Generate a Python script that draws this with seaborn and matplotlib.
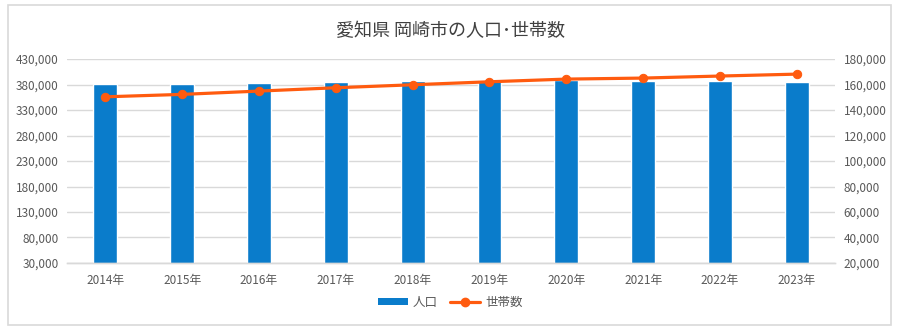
import numpy as np
import pandas as pd
import matplotlib
matplotlib.use("Agg")
import matplotlib.pyplot as plt
from matplotlib.patches import Rectangle
from matplotlib.lines import Line2D
from matplotlib.ticker import FuncFormatter
import seaborn as sns

# 岡崎市の人口・世帯数（各年）
years = ["2014年", "2015年", "2016年", "2017年", "2018年",
         "2019年", "2020年", "2021年", "2022年", "2023年"]
population = [380400, 381600, 383500, 384300, 386900,
              388800, 388900, 386300, 386300, 384300]
households = [150400, 152300, 154900, 157500, 159850,
              162200, 164300, 165100, 166700, 168200]
left_ticks = [30000, 80000, 130000, 180000, 230000,
              280000, 330000, 380000, 430000]
right_ticks = [20000, 40000, 60000, 80000, 100000,
               120000, 140000, 160000, 180000]

title = "愛知県 岡崎市の人口･世帯数"
bar_label = "人口"
line_label = "世帯数"

sns.set_theme(style="white")
plt.rcParams["font.family"] = ["Noto Sans CJK JP", "DejaVu Sans"]

BLUE = "#0A7CCB"
ORANGE = "#FF5B0F"
GRID = "#D9D9D9"
TEXT = "#595959"

fig = plt.figure(figsize=(9.0, 3.32), dpi=100)
ax = fig.add_axes([0.0744, 0.208, 0.8536, 0.614])

df = pd.DataFrame({"year": years, "population": population,
                   "households": households})

sns.barplot(data=df, x="year", y="population", color=BLUE, width=0.31,
            saturation=1, ax=ax, zorder=2)
ax.set_ylim(left_ticks[0], left_ticks[-1])
ax.set_yticks(left_ticks)
ax.set_xlim(-0.5, len(years) - 0.5)

ax2 = ax.twinx()
sns.lineplot(x=np.arange(len(years)), y=df["households"], ax=ax2,
             color=ORANGE, linewidth=2.3, marker="o", markersize=6,
             markeredgecolor=ORANGE, zorder=3)
ax2.set_ylim(right_ticks[0], right_ticks[-1])
ax2.set_yticks(right_ticks)

fmt = FuncFormatter(lambda v, p: f"{int(round(v)):,}")
ax.yaxis.set_major_formatter(fmt)
ax2.yaxis.set_major_formatter(fmt)

ax.grid(axis="y", color=GRID, linewidth=1.0, zorder=0)
ax.set_axisbelow(True)
for a in (ax, ax2):
    for s in ("left", "right", "top"):
        a.spines[s].set_visible(False)
    a.spines["bottom"].set_color(GRID)
    a.spines["bottom"].set_linewidth(1.0)
    a.set_xlabel("")
    a.set_ylabel("")
    a.tick_params(axis="both", length=0, labelsize=8.5, colors=TEXT, pad=6)

ax.tick_params(axis="x", pad=8)

fig.text(0.5, 0.905, title, ha="center", va="center", fontsize=13,
         color="#404040")

handles = [
    Rectangle((0, 0), 1, 1, facecolor=BLUE, edgecolor="none"),
    Line2D([0], [0], color=ORANGE, linewidth=2.3, marker="o", markersize=6),
]
leg = fig.legend(handles, [bar_label, line_label], loc="center",
                 bbox_to_anchor=(0.5, 0.09), ncol=2, frameon=False,
                 fontsize=9, handlelength=2.4, handleheight=0.5,
                 columnspacing=1.0, handletextpad=0.4)
for t in leg.get_texts():
    t.set_color(TEXT)

fig.patches.append(Rectangle((0.009, 0.02), 0.981, 0.965,
                             transform=fig.transFigure, fill=False,
                             edgecolor=GRID, linewidth=1.2))

fig.savefig("out.png", dpi=100)
